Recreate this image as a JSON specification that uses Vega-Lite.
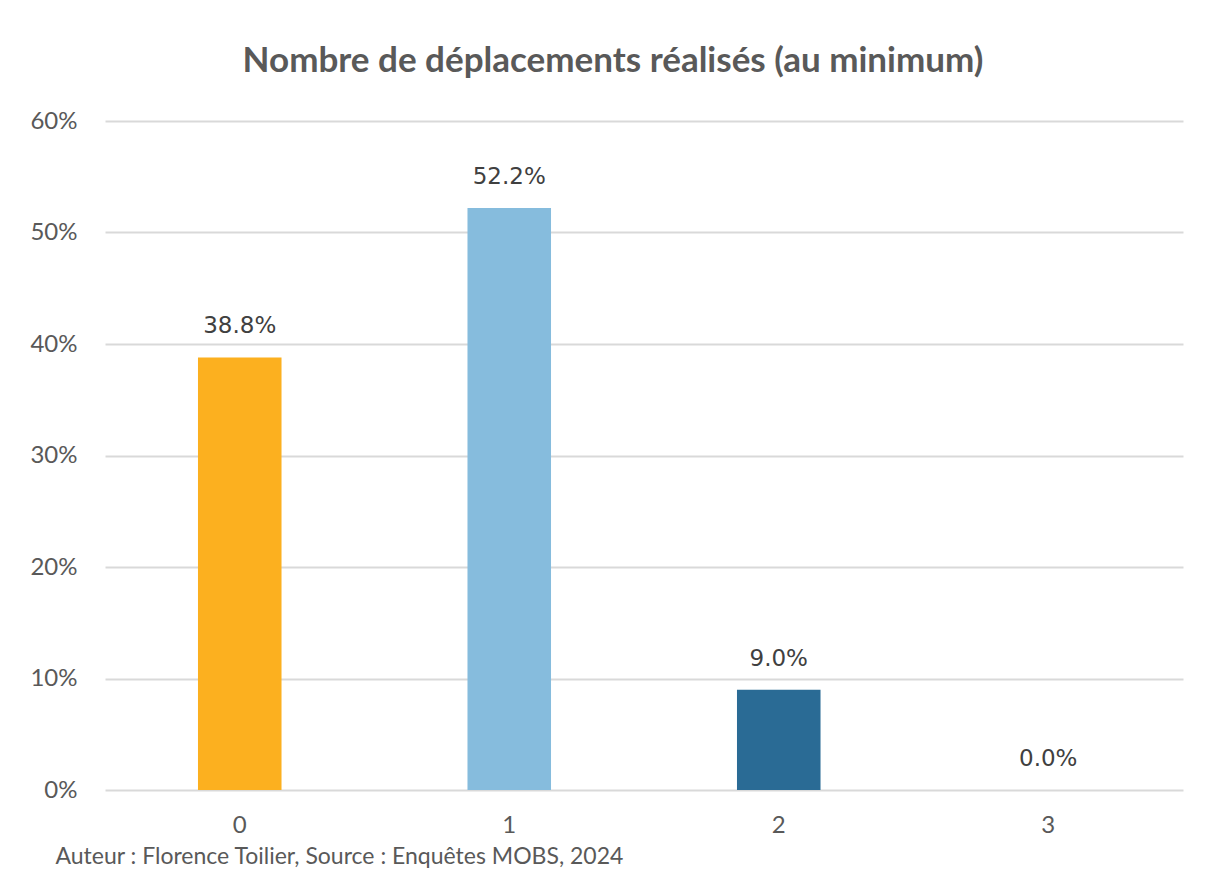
{
  "$schema": "https://vega.github.io/schema/vega-lite/v6.json",
  "autosize": "none",
  "width": 1078,
  "height": 669,
  "padding": {"left": 105, "top": 121, "right": 22, "bottom": 93},
  "background": "white",
  "title": {
    "text": "Nombre de déplacements réalisés (au minimum)",
    "font": "Lato",
    "fontSize": 35,
    "fontWeight": "bold",
    "color": "#595959",
    "anchor": "middle",
    "dx": -31,
    "offset": 30
  },
  "data": {
    "values": [
      {"n": "0", "pct": 0.388},
      {"n": "1", "pct": 0.522},
      {"n": "2", "pct": 0.090},
      {"n": "3", "pct": 0.000}
    ]
  },
  "encoding": {
    "x": {
      "field": "n",
      "type": "nominal",
      "sort": null,
      "scale": {"paddingInner": 0, "paddingOuter": 0},
      "axis": {
        "title": "Auteur : Florence Toilier, Source : Enquêtes MOBS, 2024",
        "titleFont": "Lato",
        "titleFontSize": 23,
        "titleFontWeight": "normal",
        "titleColor": "#595959",
        "titleAnchor": "start",
        "titleAlign": "left",
        "titleX": -50,
        "titlePadding": 8,
        "labelAngle": 0,
        "labelFont": "Lato",
        "labelFontSize": 24,
        "labelColor": "#595959",
        "labelPadding": 23,
        "domain": false,
        "ticks": false,
        "grid": false
      }
    },
    "y": {
      "field": "pct",
      "type": "quantitative",
      "scale": {"domain": [0, 0.6], "nice": false},
      "axis": {
        "title": null,
        "format": ".0%",
        "values": [0, 0.1, 0.2, 0.3, 0.4, 0.5, 0.6],
        "labelFont": "Lato",
        "labelFontSize": 24,
        "labelColor": "#595959",
        "labelPadding": 28,
        "domain": false,
        "ticks": false,
        "grid": true,
        "gridColor": "#D9D9D9",
        "gridWidth": 2
      }
    }
  },
  "layer": [
    {
      "mark": {"type": "bar", "width": {"band": 0.31}},
      "encoding": {
        "color": {
          "field": "n",
          "type": "nominal",
          "scale": {"domain": ["0", "1", "2", "3"], "range": ["#FCB01F", "#86BCDD", "#2A6B95", "#1F4E79"]},
          "legend": null
        }
      }
    },
    {
      "mark": {"type": "text", "dy": -19, "font": "DejaVu Sans", "fontSize": 23, "color": "#404040", "baseline": "bottom"},
      "encoding": {
        "text": {"field": "pct", "type": "quantitative", "format": ".1%"}
      }
    }
  ],
  "config": {"view": {"stroke": null}}
}
